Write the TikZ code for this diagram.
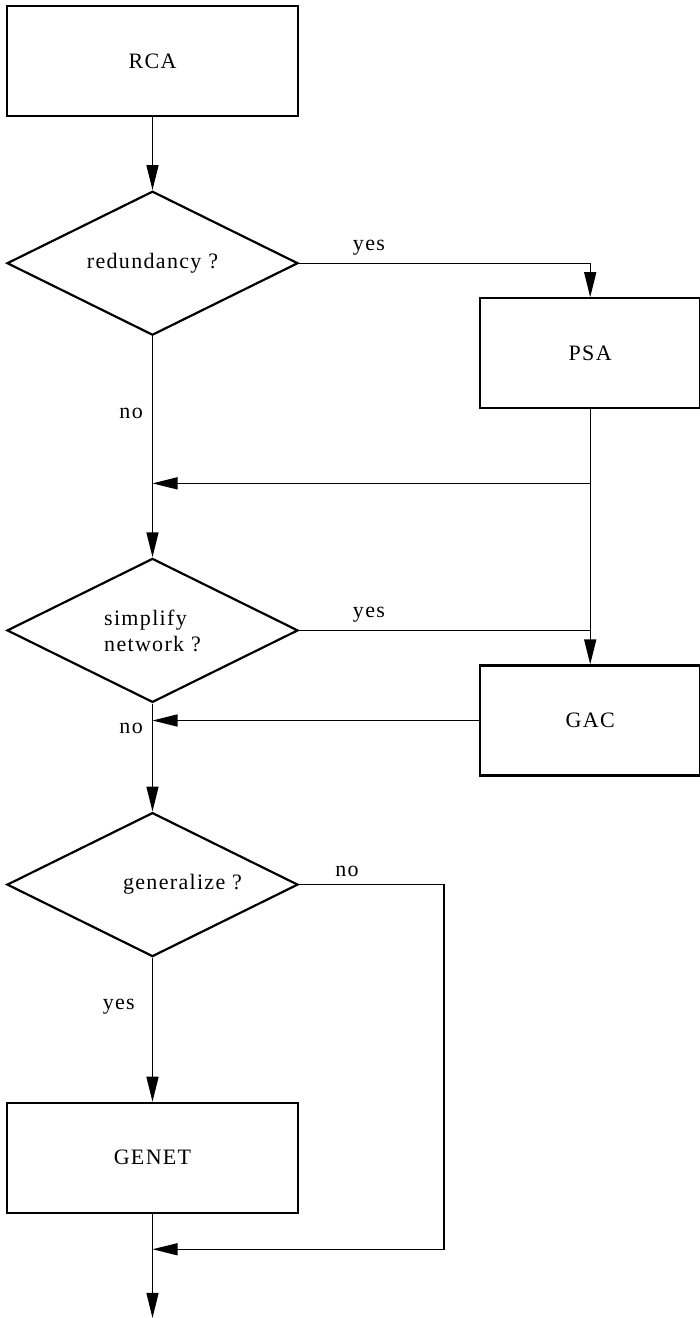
\documentclass[tikz,border=0pt]{standalone}
\usepackage{fontspec}
\setmainfont[LetterSpace=6]{Liberation Serif}
\usetikzlibrary{arrows.meta}
\usetikzlibrary{calc,positioning,shapes.geometric}
\tikzset{>={Triangle[length=25pt,width=12pt]}}

\begin{document}
\begin{tikzpicture}[x=1pt,y=-1pt]

	% Definitions.
	\tikzstyle{every node}=[
		font=\fontsize{22}{26}\selectfont,
		inner sep=3pt
	]
	\tikzstyle{process}=[draw, line width=2.2pt, minimum height=110pt, inner sep=0pt]
	\tikzstyle{decision}=[draw, diamond, aspect=2, line width=2.2pt, minimum width=291pt, minimum height=144pt, inner sep=0pt]
	\tikzstyle{flow}=[line width=1.4pt]
	\def\myarrow{Triangle[length=25pt,width=12pt]};
	\def\MainWidth{291pt};
	\def\SideWidth{220pt};

	% Frame.
	\useasboundingbox (0,0) rectangle (700,1318);

	% ---------- Main Column ---------

	\node[process, minimum width=\MainWidth] (rca) at (152.5,61) {RCA};
	\node[decision, below=73pt of rca] (redundancy) {redundancy ?};
	\node[decision, below=221pt of redundancy, align=left] (simplify) {simplify\\network ?};
	\node[decision, below=108pt of simplify] (generalize) {\hspace*{60pt}generalize ?};
	\node[process, minimum width=\MainWidth, below=144pt of generalize] (genet) {GENET};
	\coordinate[below=104pt of genet.south] (done);

	% ---------- Side Column ---------

	\node[process, minimum width=\SideWidth, below right=34pt and 180pt of redundancy.east] (psa) {PSA};
	\node[process, minimum width=\SideWidth, below=255pt of psa] (gac) {GAC};

	% ------------ Joins -----------

	\coordinate (psaJoin) at ($(psa.south)!0.29!(gac.north)$);
	\coordinate (genetJoin) at ($(genet.south)!0.34!(done)$);
	\coordinate (bypass) at ([xshift=145pt]generalize.east);

	% ================== CONNECTORS ==================

	% Redundancy.
	\draw[flow, -{\myarrow}] (rca) -- (redundancy);
	\draw[flow, -{\myarrow}] (redundancy.east) -| node[above, pos=0.12, yshift=4pt] {yes} (psa.north);
	\draw[flow, -{\myarrow}] (redundancy) -- node[left, pos=0.35, xshift=-6pt] {no} (simplify);
	\draw[flow, -{\myarrow}] (psa) -- (gac);
	\draw[flow, -{\myarrow}] (psaJoin) -- (psaJoin -| simplify.north);

	% Simplify.
	\draw[flow] (simplify.east) -- node[above, pos=0.24, yshift=4pt] {yes} (simplify.east -| gac.north);
	\draw[flow, -{\myarrow}] (gac) -- (gac.west -| simplify.south);
	\draw[flow, -{\myarrow}] (simplify) -- node[left, pos=0.23, xshift=-6pt] {no} (generalize);

	% Generalize.
	\draw[flow, -{\myarrow}] (generalize.east) -- node[above, pos=0.33, yshift=4pt] {no} (bypass) |- (genetJoin);
	\draw[flow, -{\myarrow}] (generalize) -- node[left, pos=0.34, xshift=-14pt] {yes} (genet);
	\draw[flow, -{\myarrow}] (genet) -- (done);

\end{tikzpicture}
\end{document}
